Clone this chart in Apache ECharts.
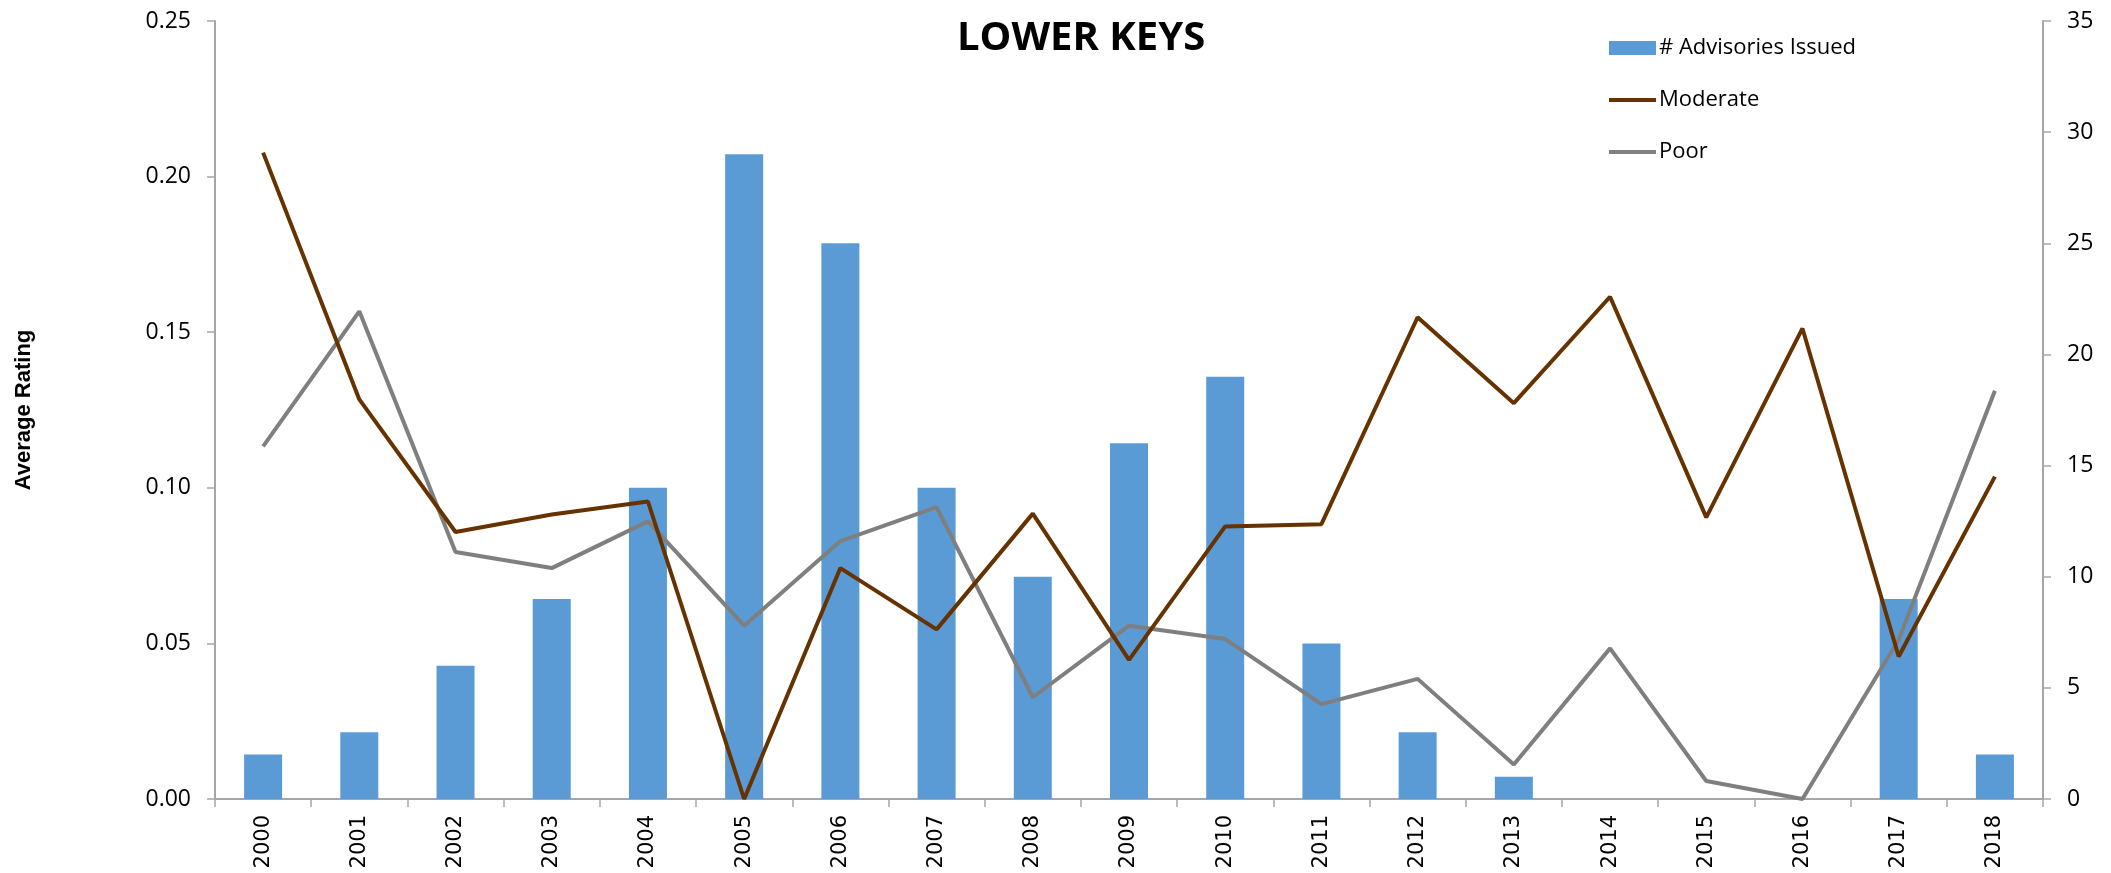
<!DOCTYPE html>
<html>
<head>
<meta charset="utf-8">
<script src="https://cdn.jsdelivr.net/npm/echarts@6/dist/echarts.min.js"></script>
<style>
html,body{margin:0;padding:0;background:#fff;}
#chart{width:2111px;height:873px;}
</style>
</head>
<body>
<div id="chart"></div>
<script>
const years = ['2000','2001','2002','2003','2004','2005','2006','2007','2008','2009','2010','2011','2012','2013','2014','2015','2016','2017','2018'];
const advisories = [2,3,6,9,14,29,25,14,10,16,19,7,3,1,0,0,0,9,2];
const moderate = [0.2077,0.1284,0.0858,0.0914,0.0956,0.0,0.0742,0.0545,0.0917,0.0447,0.0876,0.0883,0.1548,0.1272,0.1614,0.0905,0.1512,0.0458,0.1036];
const poor = [0.1133,0.1567,0.0794,0.0742,0.0892,0.0557,0.0829,0.0938,0.0327,0.0557,0.0514,0.0305,0.0386,0.0111,0.0484,0.0058,0.0,0.0512,0.1312];
const leftTicks = {min:0, max:0.25, interval:0.05};
const rightTicks = {min:0, max:35, interval:5};

const chart = echarts.init(document.getElementById('chart'), null, {renderer:'canvas'});
const axisGrey = '#A6A6A6';
const lineIcon = 'path://M0,0 M47,14 M0,5 L47,5 L47,9 L0,9 Z';
chart.setOption({
  animation:false,
  backgroundColor:'#fff',
  title:{
    text:'LOWER KEYS',
    left:952, top:14,
    textStyle:{fontFamily:'Open Sans', fontWeight:'bold', fontSize:40, color:'#000'}
  },
  legend:{
    orient:'vertical',
    left:1604, top:32,
    itemWidth:47, itemHeight:14, itemGap:30,
    textStyle:{fontFamily:'Open Sans', fontSize:22, color:'#000', padding:[0,0,0,-2]},
    data:[{name:'# Advisories Issued', icon:'rect'},{name:'Moderate', icon:lineIcon},{name:'Poor', icon:lineIcon}]
  },
  grid:{left:215, right:68, top:21, bottom:74},
  xAxis:{
    type:'category',
    data:years,
    axisLine:{lineStyle:{color:axisGrey, width:2}},
    axisTick:{show:true, length:8, lineStyle:{color:axisGrey, width:1.5}},
    axisLabel:{rotate:90, fontFamily:'DejaVu Sans', fontSize:21, color:'#000', margin:16}
  },
  yAxis:[{
    type:'value',
    min:leftTicks.min, max:leftTicks.max, interval:leftTicks.interval,
    name:'Average Rating', nameLocation:'middle', nameGap:180,
    nameTextStyle:{fontFamily:'Liberation Sans', fontWeight:'bold', fontSize:22, color:'#000'},
    axisLine:{show:true, lineStyle:{color:axisGrey, width:2}},
    axisTick:{show:true, length:8, lineStyle:{color:axisGrey, width:1.5}},
    splitLine:{show:false},
    axisLabel:{formatter:v=>v.toFixed(2), fontFamily:'Open Sans', fontSize:23, color:'#000', margin:24}
  },{
    type:'value', position:'right',
    min:rightTicks.min, max:rightTicks.max, interval:rightTicks.interval,
    axisLine:{show:true, lineStyle:{color:axisGrey, width:2}},
    axisTick:{show:true, length:8, lineStyle:{color:axisGrey, width:1.5}},
    splitLine:{show:false},
    axisLabel:{fontFamily:'Open Sans', fontSize:23, color:'#000', margin:24}
  }],
  series:[{
    name:'# Advisories Issued', type:'bar', yAxisIndex:1,
    data:advisories, barWidth:38,
    itemStyle:{color:'#5B9BD5'},
    z:1
  },{
    name:'Moderate', type:'line', yAxisIndex:0,
    data:moderate, symbol:'none', showSymbol:false,
    lineStyle:{color:'#663300', width:4},
    itemStyle:{color:'#663300'},
    z:3
  },{
    name:'Poor', type:'line', yAxisIndex:0,
    data:poor, symbol:'none', showSymbol:false,
    lineStyle:{color:'#7F7F7F', width:4},
    itemStyle:{color:'#7F7F7F'},
    z:2
  }]
});
</script>
</body>
</html>
